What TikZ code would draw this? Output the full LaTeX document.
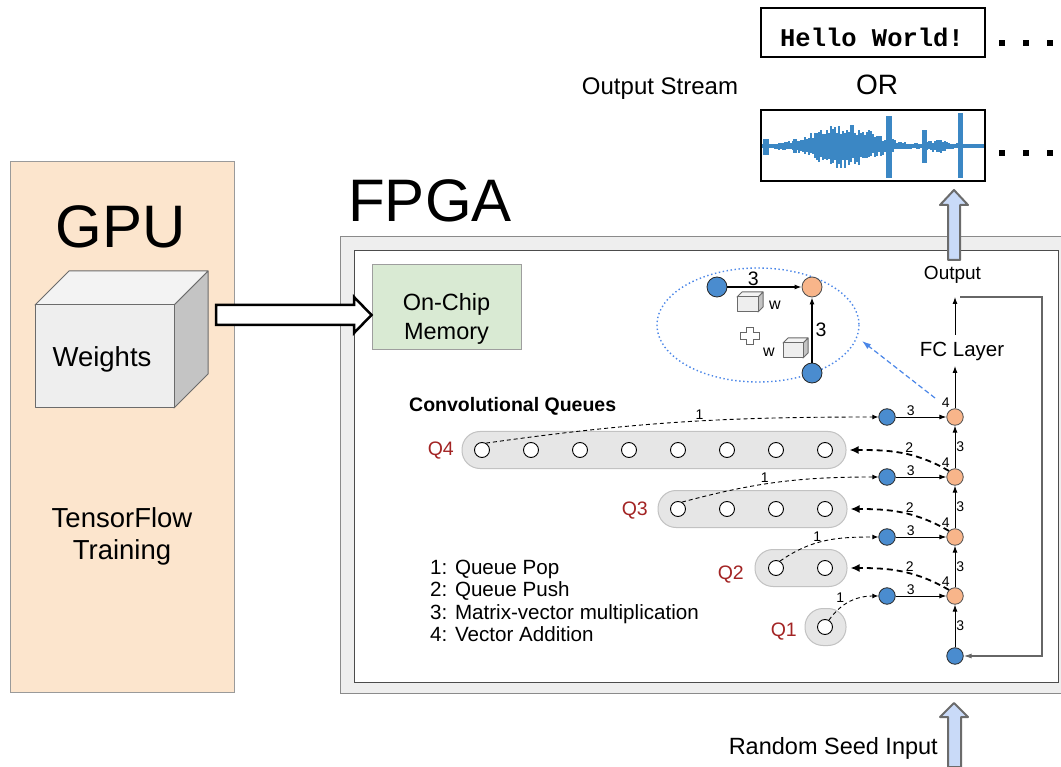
\documentclass[tikz,border=0pt]{standalone}
\usepackage{fontspec}
\setmainfont{Liberation Sans}
\setmonofont{Liberation Mono}
\usetikzlibrary{arrows.meta}
\usetikzlibrary{positioning}

\definecolor{gpufill}{HTML}{FCE5CD}
\definecolor{gpuline}{HTML}{9A9A9A}
\definecolor{cubeface}{HTML}{EEEEEE}
\definecolor{cubetop}{HTML}{F3F3F3}
\definecolor{cubeside}{HTML}{C4C4C4}
\definecolor{cubeline}{HTML}{6B6B6B}
\definecolor{memfill}{HTML}{D9EAD3}
\definecolor{memline}{HTML}{9E9E9E}
\definecolor{fpgafill}{HTML}{EEEEEE}
\definecolor{fpgaline}{HTML}{8A8A8A}
\definecolor{nodeblue}{HTML}{4A8CCF}
\definecolor{nodeorange}{HTML}{F8B58A}
\definecolor{pillfill}{HTML}{E6E6E6}
\definecolor{pillline}{HTML}{C2C2C2}
\definecolor{qred}{HTML}{A32424}
\definecolor{arrowfill}{HTML}{C9DAF8}
\definecolor{arrowline}{HTML}{6B6B6B}
\definecolor{insetblue}{HTML}{4A86E8}
\definecolor{wave}{HTML}{3B87C4}

\newcommand{\fsz}[1]{\fontsize{#1}{#1}\selectfont}

% shaded cube: x, y of front top-left corner, width, height, depth
\newcommand{\wcube}[5]{%
  \filldraw[cubeedge, fill=cubeside] (#1+#3,#2) -- ++(#5,-#5) -- ++(0,#4) -- ++(-#5,#5) -- cycle;
  \filldraw[cubeedge, fill=cubetop] (#1,#2) -- ++(#5,-#5) -- ++(#3,0) -- ++(-#5,#5) -- cycle;
  \filldraw[cubeedge, fill=cubeface] (#1,#2) rectangle ++(#3,#4);
}

\tikzset{
  txt/.style={inner sep=0pt, anchor=base},
  cubeedge/.style={draw=cubeline, line width=1pt, line join=round},
  bluedot/.style={circle, draw=black!85, fill=nodeblue, line width=0.8pt, inner sep=0pt, minimum size=16.5pt},
  orangedot/.style={circle, draw=black!70, fill=nodeorange, line width=0.8pt, inner sep=0pt, minimum size=16.5pt},
  qdot/.style={circle, draw=black, fill=white, line width=0.9pt, inner sep=0pt, minimum size=15pt},
  qpill/.style={draw=pillline, fill=pillfill, line width=1pt, rounded corners=18pt, minimum height=37pt, inner sep=0pt},
  qname/.style={inner sep=0pt, anchor=base east, text=qred, font=\fsz{19.5}},
  num/.style={font=\fsz{14}, inner sep=1pt},
  solidarr/.style={-{Latex[length=7pt,width=5pt]}, line width=0.9pt},
  poparr/.style={-{Latex[length=6pt,width=5pt]}, line width=0.9pt, dash pattern=on 4pt off 3pt},
  pusharr/.style={-{Latex[length=9pt,width=8pt]}, line width=1.8pt, dash pattern=on 6pt off 4pt, shorten >=3pt},
  fbarr/.style={-{Latex[length=8pt,width=5pt]}, draw=black!60, line width=1.1pt},
  bigarrow/.style={draw=black, fill=white, line width=2.5pt, line join=miter},
  blockup/.style={draw=arrowline, fill=arrowfill, line width=2pt, line join=round},
  outbox/.style={draw, line width=1.3pt, minimum width=224pt, inner sep=0pt},
  insetring/.style={draw=insetblue, line width=1.4pt, dash pattern=on 1.4pt off 2.6pt},
  zoomarr/.style={-{Latex[length=9pt,width=6pt]}, draw=insetblue, line width=1.2pt, dash pattern=on 5pt off 3pt}
}

\begin{document}
\begin{tikzpicture}[x=1pt, y=-1pt]
\useasboundingbox (0,0) rectangle (1061,767);

% GPU side
\draw[draw=gpuline, fill=gpufill, line width=1pt] (10,162) rectangle (234,692);
\node[txt, font=\fsz{60}] (gpu) at (121,248) {GPU};
\wcube{35}{305}{139}{103}{34}
\node[txt, font=\fsz{27.5}] (weights) at (102,367) {Weights};
\node[anchor=north, inner sep=0pt, align=center, font=\fontsize{27.5}{32}\selectfont] (tf) at (122,507.5) {TensorFlow\\Training};

% FPGA frame
\draw[draw=fpgaline, fill=fpgafill, line width=1pt] (340,237) rectangle (1075,693);
\draw[draw=black!70, fill=white, line width=1pt] (354,251) rectangle (1058,682);
\node[txt, font=\fsz{60}] (fpga) at (430,222) {FPGA};

\node[draw=memline, fill=memfill, line width=1pt, minimum width=149pt, minimum height=85pt] (mem) at (446.5,307.5) {};
\node[anchor=north, inner sep=0pt, align=center, font=\fontsize{23.5}{28.5}\selectfont] (memtext) at (446.5,293.5) {On-Chip\\Memory};

% weights go onto the chip
\draw[bigarrow] (216,305) -- (354,305) -- (354,297) -- ([yshift=-7.5pt]mem.west) -- (354,333) -- (354,325) -- (216,325) -- cycle;

% queues
\node[txt, anchor=base west, font=\bfseries\fsz{19.5}] (convq) at (409,412) {Convolutional Queues};
\foreach \q/\cx/\w/\y/\k in {4/654/384/450/8, 3/752.5/189/509/4, 2/801/92/568/2, 1/825.5/41/627/1} {
  \node[qpill, minimum width=\w pt] (q\q) at (\cx,\y) {};
  \foreach \i in {1,...,\k}
    \node[qdot] (q\q c\i) at ({825-49*(\k-\i)},\y) {};
}
\node[qname] (q4name) at (454,456) {Q4};
\node[qname] (q3name) at (648,515) {Q3};
\node[qname] (q2name) at (744,579) {Q2};
\node[qname] (q1name) at (797,636) {Q1};

\node[anchor=north west, inner sep=0pt, align=left, font=\fontsize{20.6}{22.4}\selectfont] (legend) at (430,560) {1: Queue Pop\\2: Queue Push\\3: Matrix-vector multiplication\\4: Vector Addition};

% right-hand chain
\foreach \n/\y in {1/596, 2/537, 3/477, 4/417} {
  \node[orangedot] (add\n) at (955,\y) {};
  \node[bluedot] (mul\n) at (887,\y) {};
  \draw[solidarr] (mul\n) -- node[num, above, pos=0.3] {3} (add\n);
  \node[num, anchor=south east] at ([xshift=2pt, yshift=2pt]add\n.north west) {4};
}
\node[bluedot] (seed) at (955,656) {};
\draw[solidarr] (seed) -- node[num, right] {3} (add1);
\foreach \a/\b in {1/2, 2/3, 3/4}
  \draw[solidarr] (add\a) -- node[num, right] {3} (add\b);

\coordinate (fcin) at (955,366);
\coordinate (fcout) at (955,335);
\coordinate (outtop) at (955,297);
\node[txt, font=\fsz{20.5}] (fc) at (962,357) {FC Layer};
\node[txt, font=\fsz{19}] (outlabel) at (952.5,280) {Output};
\draw[solidarr] (add4) -- (fcin);
\draw[solidarr] (fcout) -- (outtop);

% feedback into the seed
\coordinate (fbtop) at (1042,297);
\coordinate (fbbot) at (1042,656);
\draw[fbarr] ([xshift=5pt]outtop) -- (fbtop) -- (fbbot) -- (seed);

% pops
\draw[poparr] (q4c1.60) to[out=8, in=180] node[num, above, pos=0.55] {1} (mul4);
\draw[poparr] (q3c1.60) to[out=15, in=180] node[num, above, pos=0.42] {1} (mul3);
\draw[poparr] (q2c1.60) to[out=35, in=180] node[num, above, pos=0.4] {1} (mul2);
\draw[poparr] (q1c1.60) to[out=55, in=180] node[num, above left, pos=0.4] {1} (mul1);
% pushes
\draw[pusharr] (add3.north west) to[out=150, in=0] node[num, above, pos=0.4] {2} (q4.east);
\draw[pusharr] (add2.north west) to[out=150, in=0] node[num, above, pos=0.4] {2} (q3.east);
\draw[pusharr] (add1.north west) to[out=150, in=0] node[num, above, pos=0.4] {2} (q2.east);

% close-up of one step
\draw[insetring] (758,325) ellipse (101 and 57);
\node[bluedot, minimum size=20pt] (ia) at (717,287) {};
\node[orangedot, minimum size=20pt] (ib) at (812,287) {};
\node[bluedot, minimum size=20pt] (ic) at (812,373) {};
\draw[solidarr, line width=1.3pt] (ia) -- node[above, inner sep=0.5pt, pos=0.35, font=\fsz{19.5}] {3} (ib);
\draw[solidarr, line width=1.3pt] (ic) -- node[right, inner sep=3pt, font=\fsz{19.5}] {3} (ib);
\wcube{737}{297}{21}{15}{5}
\node[txt, font=\fsz{16}] (w1) at (775,310) {w};
\wcube{783}{343}{20}{15}{5}
\node[txt, font=\fsz{16}] (w2) at (769,357) {w};
\draw[fill=white, draw=black!60, line width=1pt] (746,328) -- (753,328) -- (753,333) -- (759,333) -- (759,340) -- (753,340) -- (753,345) -- (746,345) -- (746,340) -- (740,340) -- (740,333) -- (746,333) -- cycle;
\coordinate (zoomfrom) at (935,398);
\coordinate (zoomto) at (862,341);
\draw[zoomarr] (zoomfrom) -- (zoomto);

% output stream
\draw[blockup] (948,260) -- (948,205) -- (940,205) -- (954,190) -- (968,205) -- (960,205) -- (960,260) -- cycle;
\node[txt, font=\fsz{24}] (stream) at (660,94.5) {Output Stream};
\node[txt, font=\fsz{28}] (or) at (877,95) {OR};
\node[outbox, minimum height=49pt] (hello) at (873,32.5) {};
\node[txt, font=\ttfamily\bfseries\fsz{25.5}] (hellotext) at (872,47) {Hello World!};
\pgfmathsetseed{11}
\fill[wave] (761,144.5) rectangle (985,148);
\foreach \x in {762,764,...,982} {
  \pgfmathsetmacro{\env}{2+22*exp(-((\x-842)/40)^2)+5*exp(-((\x-937)/14)^2)}
  \pgfmathsetmacro{\up}{\env*(0.5+0.5*rnd)}
  \pgfmathsetmacro{\dn}{\env*(0.5+0.5*rnd)}
  \fill[wave] (\x,146-\up) rectangle (\x+2.4,146+\dn);
}
\fill[wave] (763,139) rectangle (769,155);
\fill[wave] (793,139) rectangle (797,153);
\fill[wave] (886,116) rectangle (892,178);
\fill[wave] (922,130) rectangle (927,163);
\fill[wave] (958,113) rectangle (963,178);
\node[outbox, minimum height=71pt] (wavebox) at (873,145.5) {};
\foreach \x in {1002,1026,1050} {
  \fill (\x-3,40) rectangle ++(6,6);
  \fill (\x-3,150) rectangle ++(6,6);
}

% seed input
\draw[blockup] (948,767) -- (948,717) -- (940,717) -- (954,703) -- (968,717) -- (961,717) -- (961,767) -- cycle;
\node[txt, anchor=base east, font=\fsz{23.5}] (seedtext) at (938,754) {Random Seed Input};
\end{tikzpicture}
\end{document}
